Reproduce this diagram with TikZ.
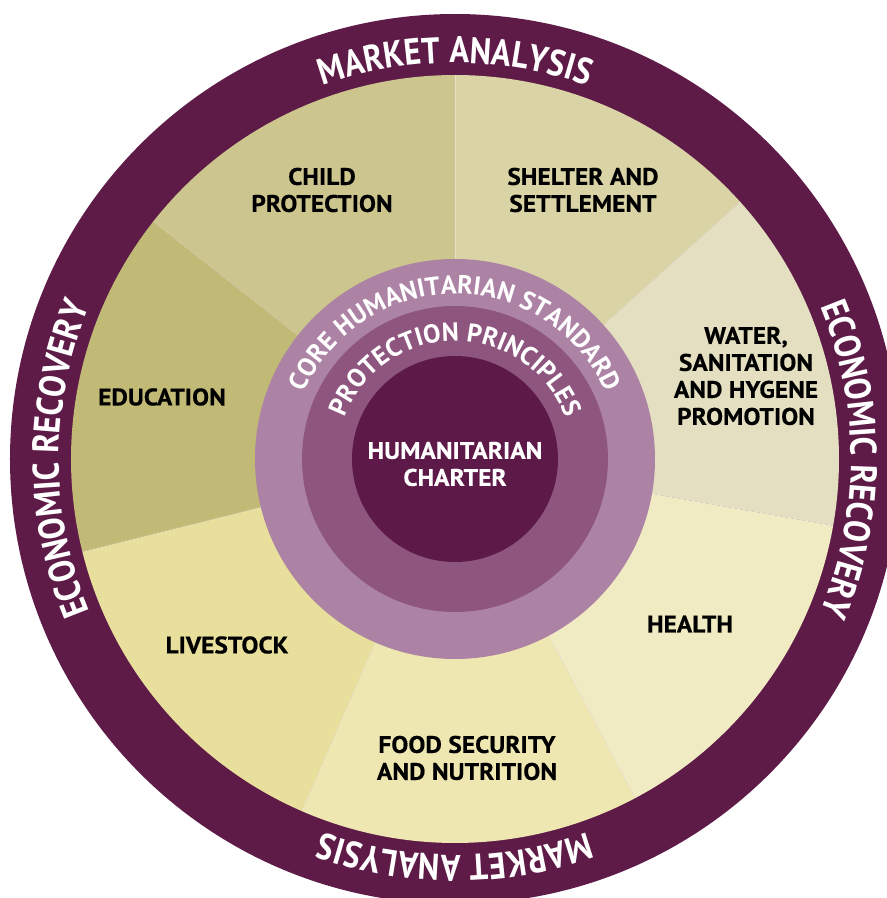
\documentclass[tikz,border=0pt]{standalone}
\usepackage{fontspec}
\setmainfont{PT Sans}
\newfontfamily\labfont{PT Sans}[FakeStretch=1.06,FakeBold=0.4]
\newfontfamily\curvfont{PT Sans}
\newfontfamily\ringfont{PT Sans}[FakeStretch=0.88]
\usetikzlibrary{decorations.text}
\definecolor{ringc}{HTML}{5E1B48}
\definecolor{lightp}{HTML}{AD83A5}
\definecolor{midp}{HTML}{8E557F}
\definecolor{darkp}{HTML}{5D1947}
\definecolor{childc}{HTML}{CCC58E}
\definecolor{shelterc}{HTML}{D9D3A5}
\definecolor{washc}{HTML}{E4DFC0}
\definecolor{healthc}{HTML}{F1EBC3}
\definecolor{foodc}{HTML}{EEE7B2}
\definecolor{livec}{HTML}{E8DF9C}
\definecolor{educ}{HTML}{C1B976}
\tikzset{
  lab/.style={font=\labfont\bfseries\fontsize{24}{27}\selectfont, align=center, inner sep=0pt, text=black},
  whitelab/.style={lab, text=white},
  sepline/.style={draw=white, draw opacity=0.35, line width=0.6pt},
  ringtext/.style={decorate, decoration={text along path, text align=center, text color=white,
      text={|\ringfont\bfseries\fontsize{37}{37}\selectfont|#1}}},
  innertext/.style={decorate, decoration={text along path, text align=center, text color=white,
      text={|\curvfont\bfseries\fontsize{26}{26}\selectfont|#1}}},
}
\begin{document}
\begin{tikzpicture}[x=1pt,y=1pt]
\useasboundingbox (-455,-439) rectangle (432,459);
\clip (-455,-439) rectangle (432,459);
\fill[white] (-455,-439) rectangle (432,459);
% outer ring
\fill[ringc] (0,0) circle[radius=445];
% sectors
\fill[shelterc] (0,0) -- (42:384) arc[start angle=42, end angle=90, radius=384] -- cycle;
\fill[childc] (0,0) -- (90:384) arc[start angle=90, end angle=141.8, radius=384] -- cycle;
\fill[educ] (0,0) -- (141.8:384) arc[start angle=141.8, end angle=194, radius=384] -- cycle;
\fill[livec] (0,0) -- (194:384) arc[start angle=194, end angle=246.5, radius=384] -- cycle;
\fill[foodc] (0,0) -- (246.5:384) arc[start angle=246.5, end angle=298, radius=384] -- cycle;
\fill[healthc] (0,0) -- (298:384) arc[start angle=298, end angle=350, radius=384] -- cycle;
\fill[washc] (0,0) -- (350:384) arc[start angle=350, end angle=402, radius=384] -- cycle;
\foreach \a in {42,90,141.8,194,246.5,298,350}
  \draw[sepline] (0,0) -- (\a:384);
% central circles
\fill[lightp] (0,0) circle[radius=200];
\fill[midp] (0,0) circle[radius=153];
\fill[darkp] (0,0) circle[radius=103];
% ring texts
\path[ringtext={MARKET ANALYSIS}] (125:396) arc[start angle=125, end angle=55, radius=396];
\path[ringtext={MARKET ANALYSIS}] (-55:396) arc[start angle=-55, end angle=-125, radius=396];
\path[ringtext={ECONOMIC RECOVERY}] (215:396) arc[start angle=215, end angle=145, radius=396];
\path[ringtext={ECONOMIC RECOVERY}] (35:396) arc[start angle=35, end angle=-35, radius=396];
% inner curved texts
\path[innertext={CORE HUMANITARIAN STANDARD}] (180:165) arc[start angle=180, end angle=0, radius=165];
\path[innertext={PROTECTION PRINCIPLES}] (180:118) arc[start angle=180, end angle=0, radius=118];
% labels
\node[lab] (child) at (-133,269) {CHILD\\PROTECTION};
\node[lab] (shelter) at (128,269) {SHELTER AND\\SETTLEMENT};
\node[lab] (wash) at (291,83) {WATER,\\SANITATION\\AND HYGENE\\PROMOTION};
\node[lab] (edu) at (-293,62) {EDUCATION};
\node[lab] (health) at (235,-165) {HEALTH};
\node[lab] (live) at (-228,-186) {LIVESTOCK};
\node[lab] (food) at (12,-299) {FOOD SECURITY\\AND NUTRITION};
\node[whitelab] (charter) at (0,-5) {HUMANITARIAN\\CHARTER};
\end{tikzpicture}
\end{document}
